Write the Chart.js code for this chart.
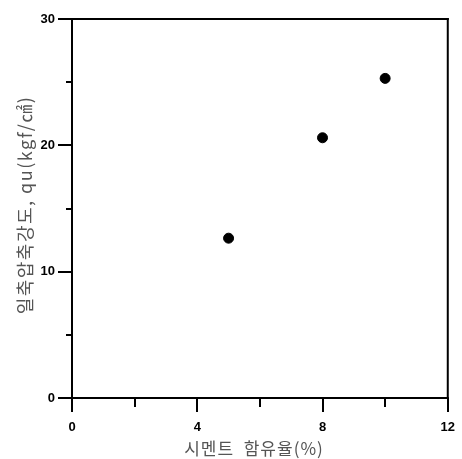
<!DOCTYPE html>
<html>
<head>
    <title>시멘트 함유율 - 일축압축강도</title>
    <script src="https://cdn.jsdelivr.net/npm/chart.js"></script>
    <style>
        html, body { margin: 0; padding: 0; background: #fff; }
        #wrap { width: 462px; height: 459px; }
    </style>
</head>
<body>
    <div id="wrap"><canvas id="strengthChart" width="462" height="459"></canvas></div>

    <script>
        // 시멘트 함유율(%) 과 일축압축강도 qu(kgf/㎠)
        const cementContent = [5, 8, 10];
        const strength = [12.65, 20.6, 25.3];

        const xMajorTicks = [0, 4, 8, 12];
        const xMinorTicks = [2, 6, 10];
        const yMajorTicks = [0, 10, 20, 30];
        const yMinorTicks = [5, 15, 25];

        const xTitle = '시멘트  함유율(%)';
        const yTitle = '일축압축강도, qu(kgf/㎠)';

        // 축 틀, 눈금, 축 제목
        const framePlugin = {
            id: 'frame',
            afterDraw(chart) {
                const ctx = chart.ctx;
                const a = chart.chartArea;
                const xs = chart.scales.x, ys = chart.scales.y;
                ctx.save();
                ctx.fillStyle = '#000';
                // 틀
                ctx.fillRect(a.left - 1, a.top - 1, a.right - a.left + 2, 2);
                ctx.fillRect(a.left - 1, a.bottom - 1, a.right - a.left + 2, 2);
                ctx.fillRect(a.left - 1, a.top - 1, 2, a.bottom - a.top + 2);
                ctx.fillRect(a.right - 1, a.top - 1, 2, a.bottom - a.top + 2);

                // x 눈금
                for (const v of xMajorTicks) {
                    const px = Math.round(xs.getPixelForValue(v));
                    ctx.fillRect(px - 1, a.bottom, 2, 14);
                }
                for (const v of xMinorTicks) {
                    const px = Math.round(xs.getPixelForValue(v));
                    ctx.fillRect(px - 1, a.bottom, 2, 9);
                }
                // y 눈금
                for (const v of yMajorTicks) {
                    const py = Math.round(ys.getPixelForValue(v));
                    ctx.fillRect(a.left - 14, py - 1, 14, 2);
                }
                for (const v of yMinorTicks) {
                    const py = Math.round(ys.getPixelForValue(v));
                    ctx.fillRect(a.left - 6, py - 1, 6, 2);
                }

                ctx.fillStyle = '#555';
                ctx.textAlign = 'center';
                ctx.textBaseline = 'middle';
                ctx.font = '17px "Noto Sans CJK KR", sans-serif';
                ctx.letterSpacing = '1px';
                ctx.fillText(xTitle, 254, 449);

                ctx.translate(25, 205);
                ctx.rotate(-Math.PI / 2);
                ctx.font = '18px "Noto Sans CJK KR", sans-serif';
                ctx.letterSpacing = '1.5px';
                ctx.fillText(yTitle, 0, 0);
                ctx.restore();
            }
        };

        new Chart(document.getElementById('strengthChart'), {
            type: 'scatter',
            data: {
                datasets: [{
                    data: cementContent.map((c, i) => ({ x: c, y: strength[i] })),
                    backgroundColor: '#000',
                    borderColor: '#000',
                    pointRadius: 5,
                    pointHoverRadius: 5
                }]
            },
            options: {
                responsive: false,
                animation: false,
                layout: { padding: { top: 19, right: 14, left: 0, bottom: 0 } },
                plugins: { legend: { display: false }, tooltip: { enabled: false } },
                scales: {
                    x: {
                        type: 'linear',
                        min: 0, max: 12,
                        afterBuildTicks: s => { s.ticks = xMajorTicks.map(v => ({ value: v })); },
                        afterFit: s => { s.height = 61; },
                        grid: { display: false, drawTicks: true, tickLength: 15 },
                        border: { display: false },
                        ticks: {
                            color: '#000', padding: 7,
                            font: { family: 'Liberation Sans, Arial', size: 13, weight: 'bold' }
                        }
                    },
                    y: {
                        type: 'linear',
                        min: 0, max: 30,
                        afterBuildTicks: s => { s.ticks = yMajorTicks.map(v => ({ value: v })); },
                        afterFit: s => { s.width = 72; },
                        grid: { display: false, drawTicks: true, tickLength: 13 },
                        border: { display: false },
                        ticks: {
                            color: '#000', padding: 4,
                            font: { family: 'Liberation Sans, Arial', size: 13, weight: 'bold' }
                        }
                    }
                }
            },
            plugins: [framePlugin]
        });
    </script>
</body>
</html>
